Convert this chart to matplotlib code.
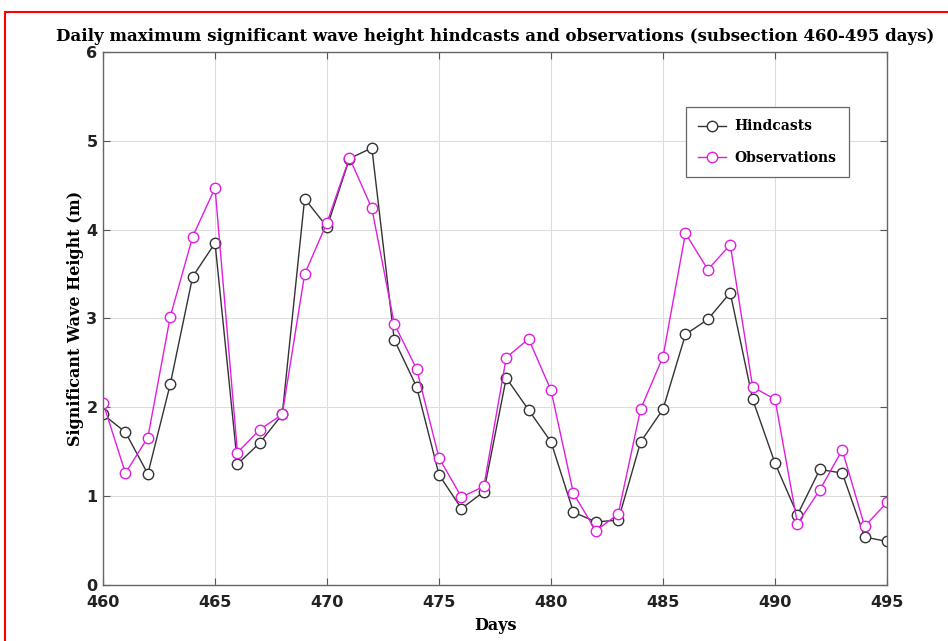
import numpy as np
import matplotlib.pyplot as plt
from matplotlib.patches import Rectangle

days = np.arange(460, 496)

hindcasts = [1.92, 1.72, 1.25, 2.26, 3.47, 3.85, 1.36, 1.60, 1.92, 4.35,
             4.03, 4.80, 4.92, 2.76, 2.23, 1.24, 0.86, 1.05, 2.33, 1.97,
             1.61, 0.82, 0.71, 0.73, 1.61, 1.98, 2.82, 2.99, 3.29, 2.09,
             1.37, 0.79, 1.30, 1.26, 0.54, 0.49]

observations = [2.05, 1.26, 1.66, 3.02, 3.92, 4.47, 1.49, 1.75, 1.92, 3.50,
                4.08, 4.81, 4.24, 2.94, 2.43, 1.43, 0.99, 1.11, 2.56, 2.77,
                2.19, 1.03, 0.61, 0.80, 1.98, 2.57, 3.96, 3.55, 3.83, 2.23,
                2.09, 0.69, 1.07, 1.52, 0.66, 0.93]

x_ticks = [460, 465, 470, 475, 480, 485, 490, 495]
y_ticks = [0, 1, 2, 3, 4, 5, 6]

serif = "DejaVu Serif"

fig = plt.figure(figsize=(9.48, 6.41), dpi=100)
ax = fig.add_axes([0.1087, 0.0874, 0.827, 0.8315])

ax.plot(days, hindcasts, "-o", color="#333333", lw=1.0, ms=7.5,
        mfc="white", mec="#333333", mew=1.0, label="Hindcasts")
ax.plot(days, observations, "-o", color="#e01ee0", lw=1.0, ms=7.5,
        mfc="white", mec="#e01ee0", mew=1.0, label="Observations")

ax.set_xlim(460, 495)
ax.set_ylim(0, 6)
ax.set_xticks(x_ticks)
ax.set_yticks(y_ticks)
ax.grid(True, color="#dddddd", lw=0.8)
ax.set_axisbelow(True)
ax.tick_params(direction="in", top=True, right=True, length=5,
               color="#555555", labelsize=11.5)
ax.tick_params(axis="x", pad=7)
ax.tick_params(axis="y", pad=4)
for lab in ax.get_xticklabels() + ax.get_yticklabels():
    lab.set_fontweight("bold")
    lab.set_color("#222222")
for s in ax.spines.values():
    s.set_color("#666666")
    s.set_linewidth(1.0)

ax.set_title("Daily maximum significant wave height hindcasts and observations (subsection 460-495 days)",
             fontsize=12, fontweight="bold", family=serif, pad=8)
ax.set_xlabel("Days", fontsize=11.5, fontweight="bold", family=serif, labelpad=5)
ax.set_ylabel("Significant Wave Height (m)", fontsize=11.5, fontweight="bold",
              family=serif, labelpad=2)

leg = ax.legend(loc="upper right", bbox_to_anchor=(0.9515, 0.897),
                borderaxespad=0,
                prop={"family": serif, "weight": "bold", "size": 10},
                fancybox=False, edgecolor="#666666", framealpha=1,
                borderpad=0.9, labelspacing=1.25, handlelength=2.0,
                handletextpad=0.6)
leg.get_frame().set_linewidth(0.9)

# red frame around the figure area
fig.patches.append(Rectangle((5 / 948, -0.5), 2, 0.5 + 1 - 12 / 641,
                             transform=fig.transFigure, fill=False,
                             edgecolor="red", lw=1.5, clip_on=False))

fig.savefig("out.png", dpi=100)
